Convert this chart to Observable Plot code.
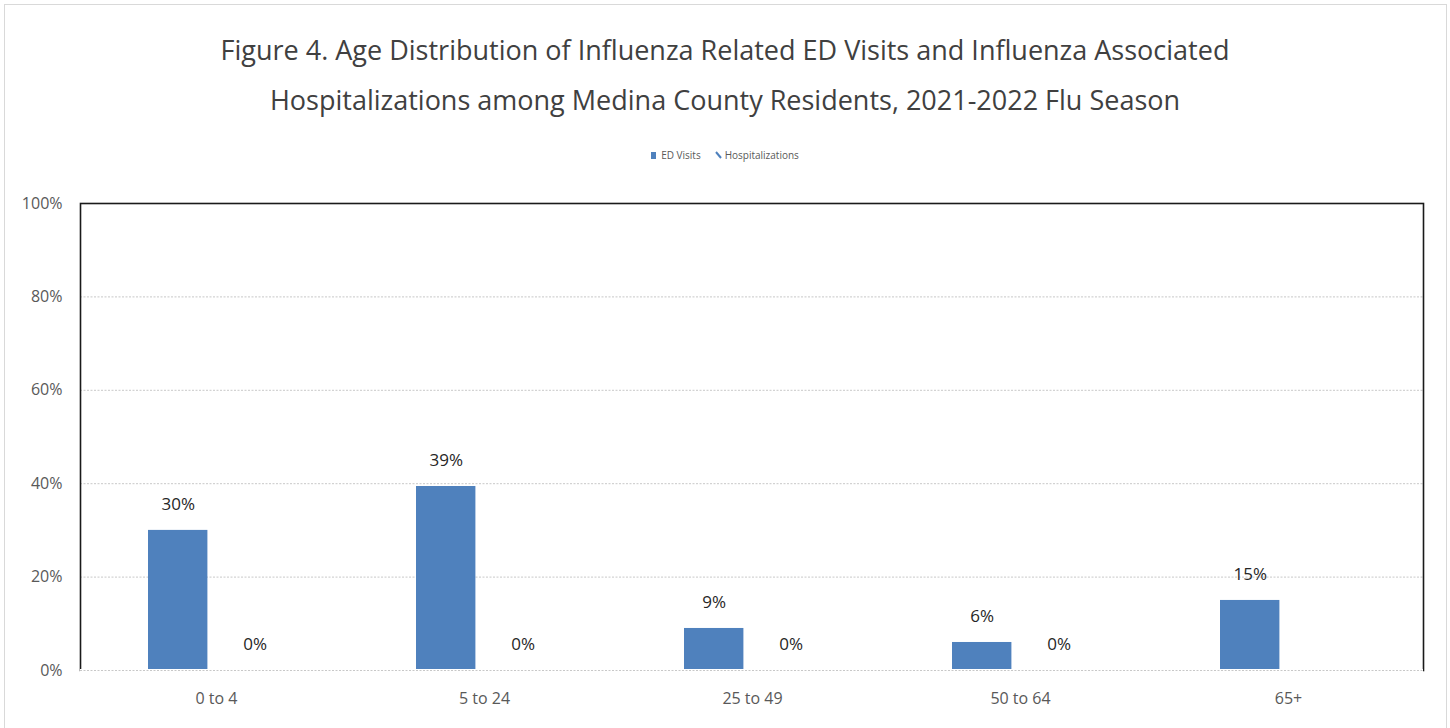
<!DOCTYPE html>
<html>
<head>
<meta charset="utf-8">
<script src="https://cdn.jsdelivr.net/npm/d3@7"></script>
<script src="https://cdn.jsdelivr.net/npm/@observablehq/plot@0.6"></script>
<style>
  html, body { margin: 0; padding: 0; background: #fff; }
  #wrap { position: relative; width: 1450px; height: 728px; overflow: hidden; font-family: "Open Sans", sans-serif; }
  #border { position: absolute; left: 4px; top: 4px; width: 1441px; height: 740px; border: 1px solid #d9d9d9; pointer-events: none; }
  #title { position: absolute; left: 0; top: 25px; width: 1450px; text-align: center; font-size: 27px; line-height: 50px; color: #404040; }
  #legend { position: absolute; left: 0; top: 148px; width: 1450px; text-align: center; font-size: 10px; color: #595959; }
  #legend span.item { display: inline-flex; align-items: center; margin: 0 7px; }
  #chart { position: absolute; left: 0; top: 175px; }
</style>
</head>
<body>
<div id="wrap">
  <div id="title">Figure 4. Age Distribution of Influenza Related ED Visits and Influenza Associated<br>Hospitalizations among Medina County Residents, 2021-2022 Flu Season</div>
  <div id="legend"></div>
  <div id="chart"></div>
  <div id="border"></div>
</div>
<script>
const ageGroups = ["0 to 4", "5 to 24", "25 to 49", "50 to 64", "65+"];
const edVisits = [30, 39.4, 9, 6, 15];
const hospitalizations = [0, 0, 0, 0, null];
const seriesNames = ["ED Visits", "Hospitalizations"];
const yTicks = [0, 20, 40, 60, 80, 100];

const blue = "#4f81bd";

const edData = ageGroups.map((g, i) => ({group: g, value: edVisits[i]}));
const hospData = ageGroups.map((g, i) => ({group: g, value: hospitalizations[i]})).filter(d => d.value != null);

// legend
const legend = document.getElementById("legend");
legend.innerHTML =
  `<span class="item"><svg width="7" height="9" style="margin-right:3px"><rect x="0" y="1" width="5" height="7" fill="${blue}"/></svg>${seriesNames[0]}</span>` +
  `<span class="item"><svg width="8" height="9" style="margin-right:2px"><line x1="1" y1="1" x2="6" y2="7" stroke="${blue}" stroke-width="2"/></svg>${seriesNames[1]}</span>`;

const W = 1450;
const bandW = (1423 - 80) / ageGroups.length;

const chart = Plot.plot({
  width: W,
  height: 553,
  marginTop: 28,
  marginBottom: 58,
  marginLeft: 80,
  marginRight: 27,
  style: { fontFamily: "'Open Sans', sans-serif", background: "transparent" },
  x: { domain: ageGroups, padding: 0, label: null },
  y: { domain: [0, 100], label: null },
  marks: [
    Plot.ruleY(yTicks.filter(t => t < 100), { stroke: "#c8c8c8", strokeDasharray: "2,1.5", strokeWidth: 1 }),
    Plot.barY(edData, { x: "group", y: "value", fill: blue, insetLeft: 66, insetRight: bandW - 126 }),
    Plot.text(edData, { x: "group", y: "value", text: d => Math.round(d.value) + "%", dx: (66 + 126) / 2 - bandW / 2, dy: -26, fontSize: 17, fill: "#262626" }),
    Plot.text(hospData, { x: "group", y: "value", text: d => Math.round(d.value) + "%", dx: (143 + 203) / 2 - bandW / 2, dy: -26, fontSize: 17, fill: "#262626" }),
    Plot.frame({ stroke: "#1a1a1a", strokeWidth: 1.6 }),
    Plot.ruleY([0], { stroke: "#fff", strokeWidth: 3 }),
    Plot.ruleY([0], { stroke: "#c8c8c8", strokeDasharray: "2,1.5", strokeWidth: 1 }),
    Plot.axisY({ ticks: yTicks, tickFormat: d => d + "%", tickSize: 0, tickPadding: 18, fontSize: 16, color: "#595959", label: null }),
    Plot.axisX({ tickSize: 0, tickPadding: 22, fontSize: 16, color: "#595959", label: null })
  ]
});
document.getElementById("chart").appendChild(chart);
</script>
</body>
</html>
